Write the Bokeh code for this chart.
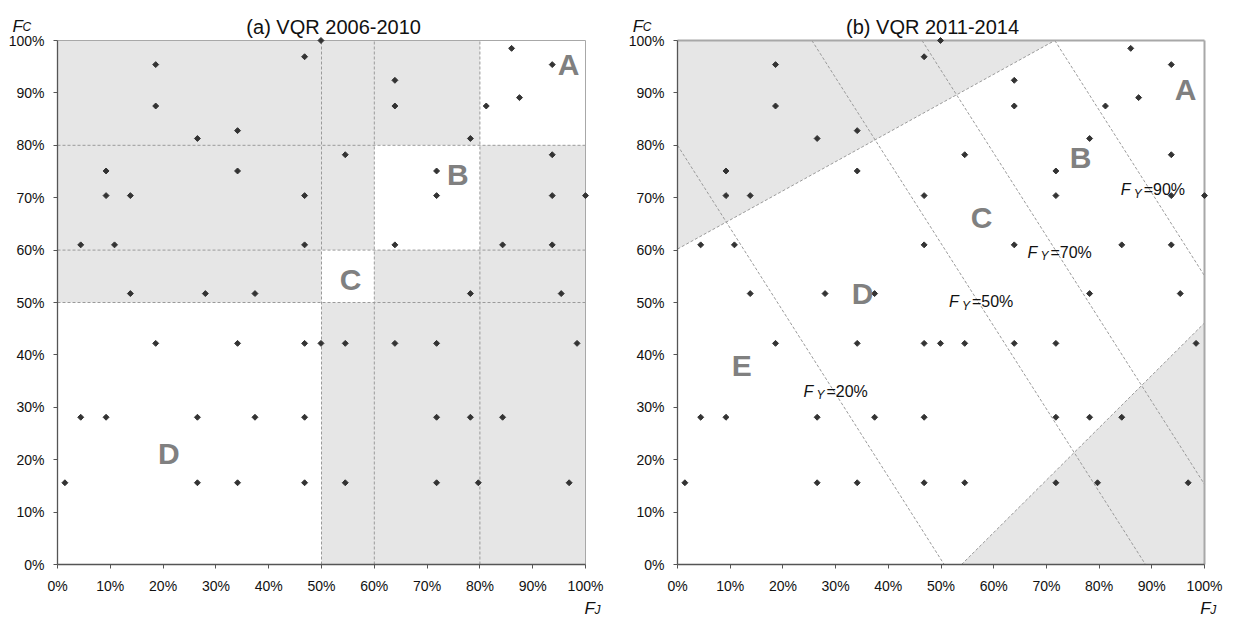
from bokeh.plotting import figure
from bokeh.layouts import row
from bokeh.models import Label, Range1d, FixedTicker
from bokeh.embed import file_html
from bokeh.resources import INLINE

FONT = "Liberation Sans"

# Department scores: journal share F_J and citation share F_C (percent)
fj = [1.4, 4.4, 4.4, 9.2, 9.2, 9.2, 10.8, 13.8, 13.8, 18.6,
      18.6, 18.6, 26.5, 26.5, 26.5, 28.0, 34.1, 34.1, 34.1, 34.1,
      37.4, 37.4, 46.8, 46.8, 46.8, 46.8, 46.8, 46.8, 49.9, 49.9,
      54.5, 54.5, 54.5, 63.9, 63.9, 63.9, 63.9, 71.8, 71.8, 71.8,
      71.8, 71.8, 78.2, 78.2, 78.2, 79.7, 81.2, 84.3, 84.3, 86.0,
      87.5, 93.7, 93.7, 93.7, 93.7, 95.4, 96.9, 98.4, 100.0]
fc = [15.6, 28.1, 61.0, 28.1, 70.4, 75.1, 61.0, 51.7, 70.4, 42.2,
      87.5, 95.4, 15.6, 28.1, 81.3, 51.7, 15.6, 42.2, 75.1, 82.8,
      28.1, 51.7, 15.6, 28.1, 42.2, 61.0, 70.4, 96.9, 42.2, 100.0,
      15.6, 42.2, 78.2, 42.2, 61.0, 87.5, 92.4, 15.6, 28.1, 42.2,
      70.4, 75.1, 28.1, 51.7, 81.3, 15.6, 87.5, 28.1, 61.0, 98.5,
      89.1, 61.0, 70.4, 78.2, 95.4, 51.7, 15.6, 42.2, 70.4]

ticks = [0, 10, 20, 30, 40, 50, 60, 70, 80, 90, 100]
tick_labels = ["0%", "10%", "20%", "30%", "40%", "50%", "60%", "70%", "80%", "90%", "100%"]

# (a) VQR 2006-2010: classes are squares on the diagonal
a_lo = [0, 50, 60, 80]
a_hi = [50, 60, 80, 100]
a_cuts = [50, 60, 80]
a_names = ["D", "C", "B", "A"]
a_name_x = [21.1, 55.5, 75.8, 96.8]
a_name_y = [21.2, 54.4, 74.4, 95.4]

# (b) VQR 2011-2014: iso-F_Y lines and excluded corners
fy_names = ["20%", "50%", "70%", "90%"]
fy_x0 = [0.0, 25.5, 46.4, 71.6]
fy_y0 = [80.0, 100.0, 100.0, 100.0]
fy_x1 = [50.6, 88.8, 100.0, 100.0]
fy_y1 = [0.0, 0.0, 15.3, 55.1]
fy_label_x = [23.9, 51.5, 66.4, 84.1]
fy_label_y = [33.1, 50.1, 59.6, 71.5]

corner_xs = [[0.0, 0.0, 71.6], [53.9, 100.0, 100.0]]
corner_ys = [[60.2, 100.0, 100.0], [0.0, 0.0, 46.1]]

b_names = ["A", "B", "C", "D", "E"]
b_name_x = [96.4, 76.5, 57.7, 35.1, 12.2]
b_name_y = [90.6, 77.7, 66.2, 51.7, 38.0]

GRAY_FILL = "#e6e6e6"
DASH = "#9a9a9a"
REGION = "#808080"
INK = "#111111"

SIZE = 617          # each panel is a square canvas
Y_PX = 5.24         # pixels per percent on the vertical axis
Y_ZERO = 564        # pixel row of 0%


def base_figure(x_zero, x_px, title, title_x, fj_x):
    # the frame fills the whole canvas; axes are pinned at 0% with fixed_location
    x_range = Range1d(-x_zero / x_px, (SIZE - x_zero) / x_px)
    y_range = Range1d((Y_ZERO - SIZE) / Y_PX, Y_ZERO / Y_PX)
    p = figure(width=SIZE, height=SIZE, output_backend="svg", toolbar_location=None,
               x_range=x_range, y_range=y_range,
               min_border_left=0, min_border_right=0,
               min_border_top=0, min_border_bottom=0)
    p.outline_line_color = None
    p.background_fill_color = "white"
    p.border_fill_color = "white"
    p.grid.visible = False
    for ax in (p.xaxis[0], p.yaxis[0]):
        ax.fixed_location = 0
        ax.bounds = (0, 100)
        ax.ticker = FixedTicker(ticks=ticks)
        ax.major_label_overrides = dict(zip(ticks, tick_labels))
        ax.axis_line_color = "#555555"
        ax.axis_line_width = 1.3
        ax.major_tick_line_color = "#555555"
        ax.major_tick_in = 0
        ax.major_tick_out = 4
        ax.minor_tick_line_color = None
        ax.major_label_text_font = FONT
        ax.major_label_text_font_size = "14px"
        ax.major_label_text_color = INK
        ax.major_label_standoff = 9
    p.add_layout(Label(x=title_x, y=102.5, text=title, text_align="center",
                       text_baseline="alphabetic", text_font=FONT,
                       text_font_size="20px", text_color=INK))
    # axis names with subscripts
    for xx, yy, main, sub in [(-8.5, 102.7, "F", "C"), (fj_x, -8.4, "F", "J")]:
        p.add_layout(Label(x=xx, y=yy, text=main, text_font=FONT, text_font_style="italic",
                           text_font_size="17px", text_baseline="alphabetic", text_color=INK))
        p.add_layout(Label(x=xx, y=yy, x_offset=10, y_offset=-1, text=sub, text_font=FONT,
                           text_font_style="italic", text_font_size="12px",
                           text_baseline="alphabetic", text_color=INK))
    return p


def frame_border(p, width):
    p.segment(x0=[0, 100], y0=[100, 0], x1=[100, 100], y1=[100, 100],
              line_color="#a8a8a8", line_width=width)


def draw_points(p):
    p.scatter(fj, fc, marker="square", angle=0.785398, size=4.2,
              fill_color="#333333", line_color="#333333")


def region_labels(p, names, xs, ys):
    for n, x, y in zip(names, xs, ys):
        p.add_layout(Label(x=x, y=y, text=n, text_align="center", text_baseline="middle",
                           text_font=FONT, text_font_style="bold", text_font_size="30px",
                           text_color=REGION))


# ---------- panel (a) ----------
pa = base_figure(57, 5.28, "(a) VQR 2006-2010", 52.3, 99.8)
pa.quad(left=[0], right=[100], bottom=[0], top=[100], fill_color=GRAY_FILL, line_color=None)
pa.quad(left=a_lo, right=a_hi, bottom=a_lo, top=a_hi, fill_color="white", line_color=None)
pa.segment(x0=[0] * 3, y0=a_cuts, x1=[100] * 3, y1=a_cuts,
           line_color=DASH, line_dash="3 2", line_width=1)
pa.segment(x0=a_cuts, y0=[0] * 3, x1=a_cuts, y1=[100] * 3,
           line_color=DASH, line_dash="3 2", line_width=1)
frame_border(pa, 1)
draw_points(pa)
region_labels(pa, a_names, a_name_x, a_name_y)

# ---------- panel (b) ----------
pb = base_figure(60, 5.27, "(b) VQR 2011-2014", 48.4, 99.2)
pb.patches(xs=corner_xs, ys=corner_ys, fill_color=GRAY_FILL, line_color=None)
pb.segment(x0=[corner_xs[0][0], corner_xs[1][0]], y0=[corner_ys[0][0], corner_ys[1][0]],
           x1=[corner_xs[0][2], corner_xs[1][2]], y1=[corner_ys[0][2], corner_ys[1][2]],
           line_color=DASH, line_dash="3 2", line_width=1)
pb.segment(x0=fy_x0, y0=fy_y0, x1=fy_x1, y1=fy_y1,
           line_color=DASH, line_dash="3 2", line_width=1)
frame_border(pb, 2)
draw_points(pb)
region_labels(pb, b_names, b_name_x, b_name_y)
for name, x, y in zip(fy_names, fy_label_x, fy_label_y):
    pb.add_layout(Label(x=x, y=y, text="F", text_font=FONT, text_font_style="italic",
                        text_font_size="16px", text_baseline="alphabetic", text_color=INK))
    pb.add_layout(Label(x=x, y=y, x_offset=13, y_offset=-4, text="Y", text_font=FONT,
                        text_font_style="italic", text_font_size="12px",
                        text_baseline="alphabetic", text_color=INK))
    pb.add_layout(Label(x=x, y=y, x_offset=23, text="=" + name, text_font=FONT,
                        text_font_size="16px", text_baseline="alphabetic", text_color=INK))

layout = row(pa, pb)
open("out.html", "w").write(file_html(layout, INLINE))
